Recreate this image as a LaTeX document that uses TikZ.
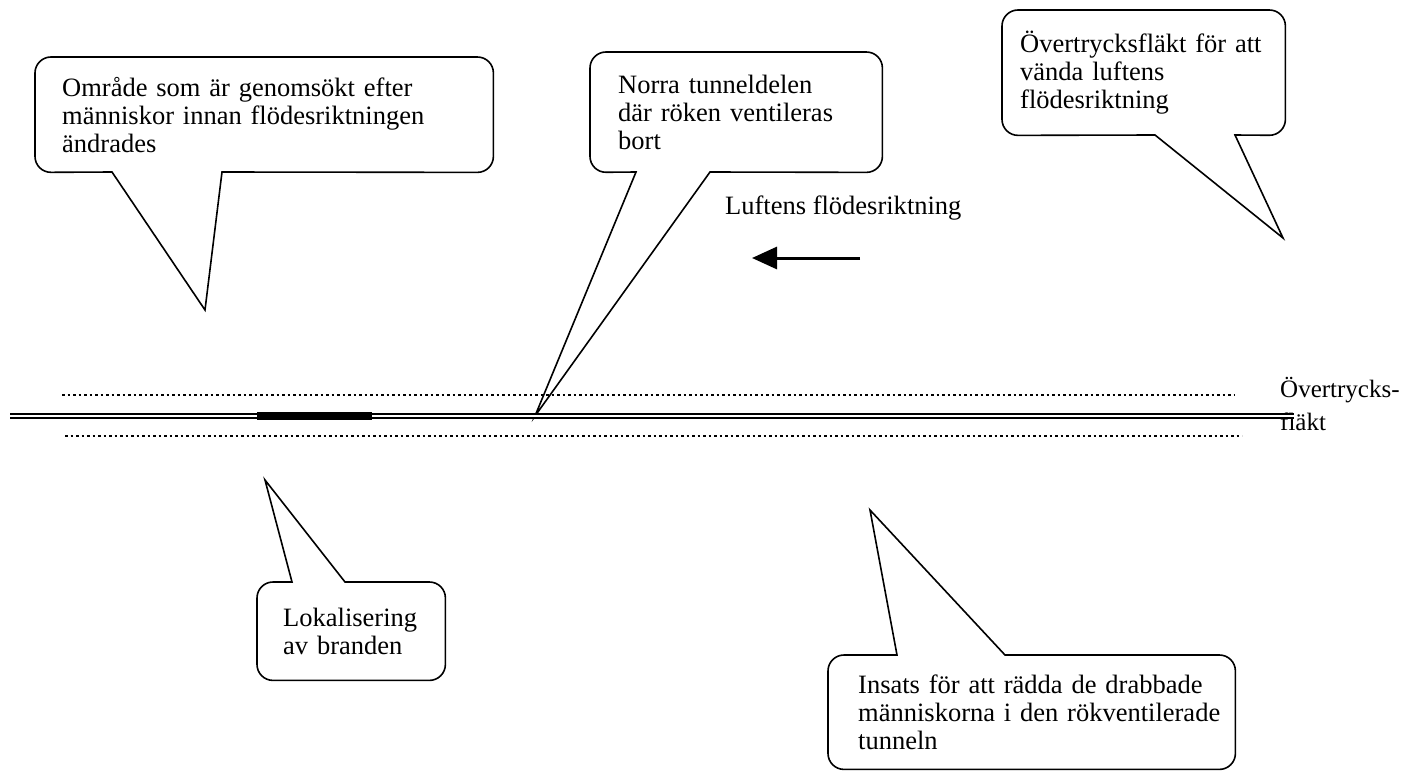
\documentclass[tikz,border=0pt]{standalone}
\usepackage{fontspec}
\setmainfont{Liberation Serif}
\usetikzlibrary{arrows.meta,positioning}
\tikzset{
  bubble/.style={draw=black, line width=1.6pt, line join=miter},
  note/.style={anchor=north west, inner ysep=0pt, align=left,
               font=\fontsize{26.5}{28}\selectfont},
  lbl/.style={inner sep=0pt, align=left, font=\fontsize{26.5}{30}\selectfont},
  tunnel/.style={draw=black, double=white, double distance=2.6pt, line width=1.8pt},
  sidewall/.style={draw=black, line width=2.6pt, dash pattern=on 2.6pt off 2.9pt},
  fire/.style={draw=black, line width=8pt},
  flow/.style={-{Triangle[length=25pt, width=22pt]}, draw=black, line width=3pt}
}

\begin{document}
\begin{tikzpicture}[x=1pt, y=-1pt]
 \useasboundingbox (0,0) rectangle (1405,771);
 % callout boxes
 \node[note, minimum width=458pt, minimum height=115pt, inner xsep=27pt, text width=404pt] (omr) at (35,57)
   {Område som är genomsökt efter\\människor innan flödesriktningen\\ändrades};
 \node[note, minimum width=292pt, minimum height=120pt, inner xsep=28pt, text width=236pt] (norra) at (590,52)
   {Norra tunneldelen\\där röken ventileras\\bort};
 \node[note, minimum width=283pt, minimum height=125pt, inner xsep=18pt, text width=247pt] (fan) at (1002,10)
   {Övertrycksfläkt för att\\vända luftens\\flödesriktning};
 \node[note, minimum width=188pt, minimum height=98pt, inner xsep=26pt, text width=136pt] (lok) at (257,582)
   {Lokalisering\\av branden};
 \node[note, minimum width=407pt, minimum height=114pt, inner xsep=30pt, text width=347pt] (insats) at (828,655)
   {\mbox{Insats för att rädda de drabbade}\\\mbox{människorna i den rökventilerade}\\tunneln};
 % tails
 \coordinate (omrL) at (112,172); \coordinate (omrR) at (222,172); \coordinate (omrTip) at (205,310);
 \coordinate (norL) at (636,172); \coordinate (norR) at (710,172); \coordinate (norTip) at (535,416);
 \coordinate (fanL) at (1155,135); \coordinate (fanR) at (1235,135); \coordinate (fanTip) at (1283,238);
 \coordinate (lokL) at (292,582); \coordinate (lokR) at (345,582); \coordinate (lokTip) at (265,480);
 \coordinate (insL) at (897,655); \coordinate (insR) at (1005,655); \coordinate (insTip) at (870,510);
 \draw[bubble] (omrR) [rounded corners=16pt] -- (omr.south east) -- (omr.north east) -- (omr.north west)
   -- (omr.south west) [sharp corners] -- (omrL) -- (omrTip) -- cycle;
 \draw[bubble] (norR) [rounded corners=16pt] -- (norra.south east) -- (norra.north east) -- (norra.north west)
   -- (norra.south west) [sharp corners] -- (norL) -- (norTip) -- cycle;
 \draw[bubble] (fanR) [rounded corners=16pt] -- (fan.south east) -- (fan.north east) -- (fan.north west)
   -- (fan.south west) [sharp corners] -- (fanL) -- (fanTip) -- cycle;
 \draw[bubble] (lokL) [rounded corners=16pt] -- (lok.north west) -- (lok.south west) -- (lok.south east)
   -- (lok.north east) [sharp corners] -- (lokR) -- (lokTip) -- cycle;
 \draw[bubble] (insL) [rounded corners=16pt] -- (insats.north west) -- (insats.south west) -- (insats.south east)
   -- (insats.north east) [sharp corners] -- (insR) -- (insTip) -- cycle;
 % air flow
 \node[lbl, anchor=west] (flowlbl) at (725,208) {Luftens flödesriktning};
 \coordinate (flowS) at (860,258); \coordinate (flowE) at (752,258);
 \draw[flow] (flowS) -- (flowE);
 % tunnel
 \node[lbl, anchor=west, font=\fontsize{25}{33}\selectfont] (fanlbl) at (1280,404) {Övertrycks-\\fläkt};
 \coordinate (wallNW) at (62,395); \coordinate (wallNE) at (1235,395);
 \coordinate (wallSW) at (65,436); \coordinate (wallSE) at (1242,436);
 \coordinate (tunW) at (10,416); \coordinate (tunE) at (1294,416);
 \coordinate (fireW) at (257,416); \coordinate (fireE) at (372,416);
 \draw[sidewall] (wallNW) -- (wallNE);
 \draw[sidewall] (wallSW) -- (wallSE);
 \draw[tunnel] (tunW) -- (tunE);
 \draw[fire] (fireW) -- (fireE);
\end{tikzpicture}
\end{document}
